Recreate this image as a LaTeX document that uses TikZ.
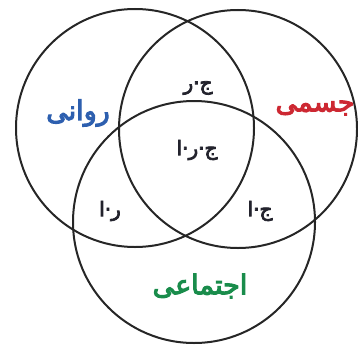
\documentclass[tikz,border=0pt]{standalone}
\usepackage{fontspec}
\TeXXeTstate=1
\newfontfamily\arabicfont[Script=Arabic, FakeBold=4]{DejaVu Sans}
\definecolor{ravani}{RGB}{45,95,175}
\definecolor{jesmi}{RGB}{205,40,50}
\definecolor{ejtemai}{RGB}{25,140,75}
\definecolor{abbr}{RGB}{35,35,45}
\tikzset{
  circ/.style={draw=black!85, line width=2pt},
  biglabel/.style={font=\arabicfont\fontsize{27}{30}\selectfont, inner sep=0pt},
  smalllabel/.style={font=\arabicfont\fontsize{20}{22}\selectfont, text=abbr, inner sep=0pt}
}
\begin{document}
\begin{tikzpicture}[x=1pt,y=-1pt]
\useasboundingbox (0,0) rectangle (358,345);
\node[circ, circle, minimum size=238pt, inner sep=0pt] (L) at (135,128) {};
\node[circ, circle, minimum size=238pt, inner sep=0pt] (R) at (238,129) {};
\node[circ, circle, minimum size=242pt, inner sep=0pt] (B) at (194,222) {};
\node[biglabel, text=ravani] (tl) at (78,113) {\beginR روانی\endR};
\node[biglabel, text=jesmi] (tr) at (315,108) {\beginR جسمی\endR};
\node[biglabel, text=ejtemai] (tb) at (200,286) {\beginR اجتماعی\endR};
\node[smalllabel] (jr) at (198,88) {\beginR ج·ر\endR};
\node[smalllabel] (jra) at (197,150) {\beginR ج·ر·ا\endR};
\node[smalllabel] (ra) at (110,211) {\beginR ر·ا\endR};
\node[smalllabel] (ja) at (260,211) {\beginR ج·ا\endR};
\end{tikzpicture}
\end{document}
